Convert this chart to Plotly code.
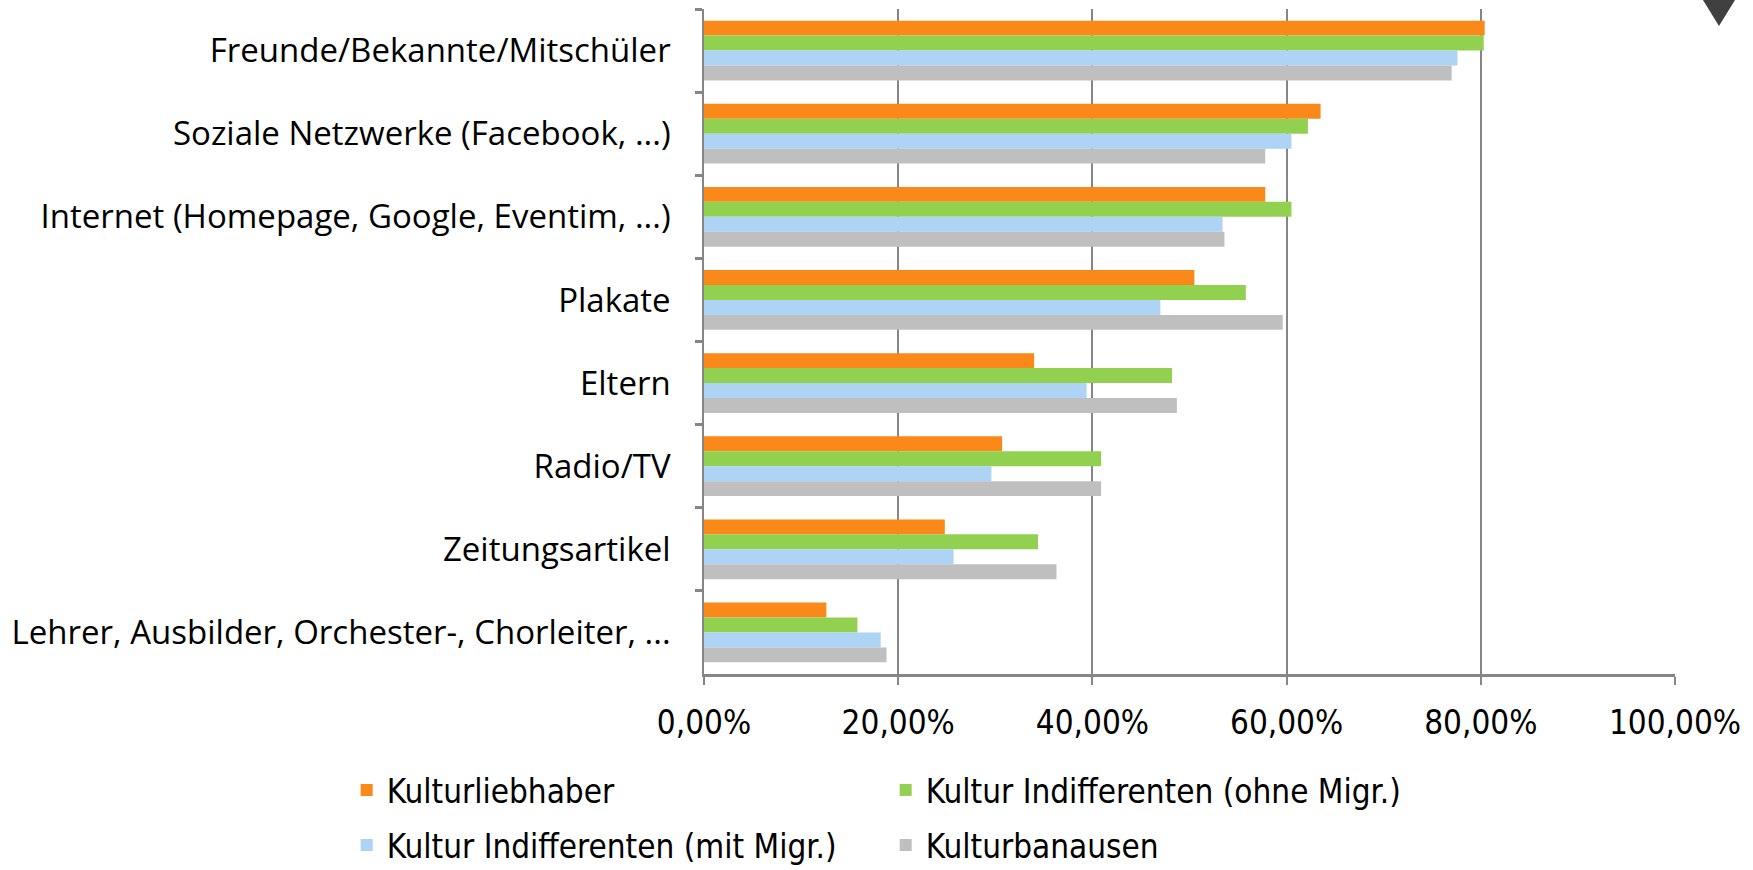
import plotly.graph_objects as go

categories = [
    "Freunde/Bekannte/Mitschüler",
    "Soziale Netzwerke (Facebook, ...)",
    "Internet (Homepage, Google, Eventim, ...)",
    "Plakate",
    "Eltern",
    "Radio/TV",
    "Zeitungsartikel",
    "Lehrer, Ausbilder, Orchester-, Chorleiter, ...",
]

kulturliebhaber = [0.804, 0.635, 0.578, 0.505, 0.340, 0.307, 0.248, 0.126]
indiff_ohne = [0.803, 0.622, 0.605, 0.558, 0.482, 0.409, 0.344, 0.158]
indiff_mit = [0.776, 0.605, 0.534, 0.470, 0.394, 0.296, 0.257, 0.182]
kulturbanausen = [0.770, 0.578, 0.536, 0.596, 0.487, 0.409, 0.363, 0.188]

series_names = [
    "Kulturliebhaber",
    "Kultur Indifferenten (ohne Migr.)",
    "Kultur Indifferenten (mit Migr.)",
    "Kulturbanausen",
]
series_values = [kulturliebhaber, indiff_ohne, indiff_mit, kulturbanausen]
series_colors = ["#FA8919", "#92D050", "#ADD3F5", "#BFBFBF"]
legend_ids = ["legend", "legend", "legend2", "legend2"]

x_ticks = [0, 0.2, 0.4, 0.6, 0.8, 1.0]
x_tick_labels = ["0,00%", "20,00%", "40,00%", "60,00%", "80,00%", "100,00%"]

fig = go.Figure()
for name, vals, col, lg in zip(series_names, series_values, series_colors, legend_ids):
    fig.add_trace(go.Bar(
        y=categories, x=vals, name=name, orientation="h",
        marker=dict(color=col, line=dict(width=0)),
        legend=lg,
    ))

narrow = "Liberation Sans Narrow, DejaVu Sans Condensed, sans-serif"
legend_font = dict(family=narrow, size=33, color="#000000")

fig.update_layout(
    width=1753, height=870,
    paper_bgcolor="white", plot_bgcolor="white",
    margin=dict(l=704, r=78, t=9, b=196, autoexpand=False),
    barmode="group", bargap=0.28, bargroupgap=0,
    showlegend=True,
    legend=dict(orientation="h", x=-0.368, xanchor="left", y=-0.2165, yanchor="bottom",
                font=legend_font, entrywidth=494, traceorder="normal",
                itemwidth=30, bgcolor="rgba(0,0,0,0)"),
    legend2=dict(orientation="h", x=-0.368, xanchor="left", y=-0.2993, yanchor="bottom",
                 font=legend_font, entrywidth=494, traceorder="normal",
                 itemwidth=30, bgcolor="rgba(0,0,0,0)"),
    xaxis=dict(
        range=[0, 1.0], tickvals=x_ticks, ticktext=x_tick_labels,
        showgrid=True, gridcolor="#868686", gridwidth=1.5,
        showline=True, linecolor="#868686", linewidth=3,
        ticks="outside", ticklen=8, tickcolor="#868686", tickwidth=1.5,
        ticklabelstandoff=9, automargin=False,
        tickfont=dict(family=narrow, size=33, color="#000000"),
        zeroline=False,
    ),
    yaxis=dict(
        autorange="reversed", type="category",
        showline=True, linecolor="#868686", linewidth=1.5,
        ticks="outside", tickson="boundaries", ticklen=7, tickcolor="#868686", tickwidth=2.5,
        ticklabelstandoff=25, automargin=False,
        tickfont=dict(family="Open Sans, sans-serif", size=33, color="#000000"),
        showgrid=False,
    ),
    shapes=[dict(
        type="path", xref="paper", yref="paper",
        path="M 1.0288 1.0135 L 1.0618 1.0135 L 1.0453 0.9744 Z",
        fillcolor="#404040", line=dict(width=0),
    )],
)

fig.write_html("out.html", config={"displayModeBar": False},
               post_script="document.body.style.margin='0px';")
